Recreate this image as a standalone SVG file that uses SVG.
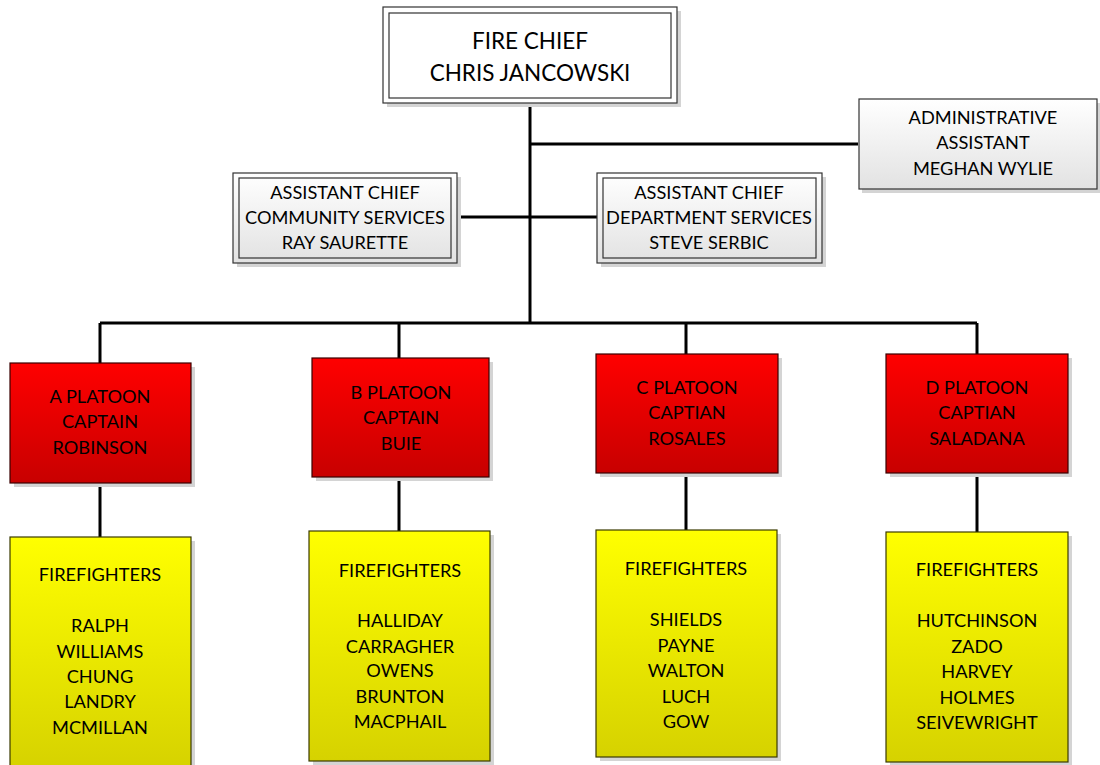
<svg xmlns="http://www.w3.org/2000/svg" width="1100" height="765" viewBox="0 0 1100 765">
<defs>
<linearGradient id="gRed" x1="0" y1="0" x2="0" y2="1"><stop offset="0" stop-color="#ff0000"/><stop offset="1" stop-color="#c80000"/></linearGradient>
<linearGradient id="gYel" x1="0" y1="0" x2="0" y2="1"><stop offset="0" stop-color="#ffff00"/><stop offset="1" stop-color="#d6d200"/></linearGradient>
<linearGradient id="gGray" x1="0" y1="0" x2="0" y2="1"><stop offset="0" stop-color="#ffffff"/><stop offset="1" stop-color="#e2e2e2"/></linearGradient>
</defs>
<style>
text{font-family:"Lato","Liberation Sans",sans-serif;fill:#000;text-anchor:middle;}
.t17{font-size:18.2px;}
.t22{font-size:22.5px;}
.sh{fill:#d4d4d4;}
.red{fill:url(#gRed);stroke:#3a0000;stroke-width:1.2;}
.yel{fill:url(#gYel);stroke:#3a3a00;stroke-width:1.2;}
.gray{fill:url(#gGray);stroke:#333;stroke-width:1.2;}
.inner{fill:none;stroke:#333;stroke-width:1.2;}
.wht{fill:#fff;stroke:#333;stroke-width:1.2;}
.conn{fill:none;stroke:#000;stroke-width:3;}
</style>
<g id="connectors">
<path class="conn" d="M530,103 V323"/>
<path class="conn" d="M530,144 H858"/>
<path class="conn" d="M457,217 H597"/>
<path class="conn" d="M100,323 H977"/>
<path class="conn" d="M100,323 V363 M399,323 V358 M686,323 V354 M977,323 V354"/>
<path class="conn" d="M100,483 V537 M399,477 V531 M686,473 V530 M977,473 V532"/>
</g>
<g id="fire-chief">
<rect class="sh" x="387" y="11" width="294" height="96"/>
<rect class="wht" x="383" y="7" width="294" height="96"/>
<rect class="inner" x="389" y="13" width="282" height="85"/>
<text class="t22" x="530" y="49">FIRE CHIEF</text>
<text class="t22" x="530" y="81">CHRIS JANCOWSKI</text>
</g>
<g id="admin-assistant">
<rect class="sh" x="862" y="103" width="240" height="90"/>
<rect class="gray" x="859" y="99" width="238" height="90"/>
<text class="t17" x="983" y="124">ADMINISTRATIVE</text>
<text class="t17" x="983" y="149">ASSISTANT</text>
<text class="t17" x="983" y="175">MEGHAN WYLIE</text>
</g>
<g id="asst-chief-community">
<rect class="sh" x="237" y="177" width="224" height="90"/>
<rect class="gray" x="233" y="173" width="224" height="90"/>
<rect class="inner" x="239" y="178" width="212" height="80"/>
<text class="t17" x="345" y="199">ASSISTANT CHIEF</text>
<text class="t17" x="345" y="224">COMMUNITY SERVICES</text>
<text class="t17" x="345" y="249">RAY SAURETTE</text>
</g>
<g id="asst-chief-department">
<rect class="sh" x="601" y="177" width="225" height="90"/>
<rect class="gray" x="597" y="173" width="225" height="90"/>
<rect class="inner" x="603" y="178" width="213" height="80"/>
<text class="t17" x="709" y="199">ASSISTANT CHIEF</text>
<text class="t17" x="709" y="224">DEPARTMENT SERVICES</text>
<text class="t17" x="709" y="249">STEVE SERBIC</text>
</g>
<g id="a-platoon">
<rect class="sh" x="14" y="367" width="181" height="120"/>
<rect class="red" x="10" y="363" width="181" height="120"/>
<text class="t17" x="100" y="403">A PLATOON</text>
<text class="t17" x="100" y="428">CAPTAIN</text>
<text class="t17" x="100" y="454">ROBINSON</text>
</g>
<g id="b-platoon">
<rect class="sh" x="316" y="362" width="177" height="119"/>
<rect class="red" x="312" y="358" width="177" height="119"/>
<text class="t17" x="401" y="399">B PLATOON</text>
<text class="t17" x="401" y="424">CAPTAIN</text>
<text class="t17" x="401" y="450">BUIE</text>
</g>
<g id="c-platoon">
<rect class="sh" x="600" y="358" width="182" height="119"/>
<rect class="red" x="596" y="354" width="182" height="119"/>
<text class="t17" x="687" y="394">C PLATOON</text>
<text class="t17" x="687" y="419">CAPTIAN</text>
<text class="t17" x="687" y="445">ROSALES</text>
</g>
<g id="d-platoon">
<rect class="sh" x="890" y="358" width="182" height="119"/>
<rect class="red" x="886" y="354" width="182" height="119"/>
<text class="t17" x="977" y="394">D PLATOON</text>
<text class="t17" x="977" y="419">CAPTIAN</text>
<text class="t17" x="977" y="445">SALADANA</text>
</g>
<g id="a-firefighters">
<rect class="sh" x="14" y="541" width="181" height="230"/>
<rect class="yel" x="10" y="537" width="181" height="232"/>
<text class="t17" x="100" y="581">FIREFIGHTERS</text>
<text class="t17" x="100" y="632">RALPH</text>
<text class="t17" x="100" y="658">WILLIAMS</text>
<text class="t17" x="100" y="683">CHUNG</text>
<text class="t17" x="100" y="708">LANDRY</text>
<text class="t17" x="100" y="734">MCMILLAN</text>
</g>
<g id="b-firefighters">
<rect class="sh" x="313" y="535" width="181" height="230"/>
<rect class="yel" x="309" y="531" width="181" height="230"/>
<text class="t17" x="400" y="577">FIREFIGHTERS</text>
<text class="t17" x="400" y="627">HALLIDAY</text>
<text class="t17" x="400" y="653">CARRAGHER</text>
<text class="t17" x="400" y="677">OWENS</text>
<text class="t17" x="400" y="703">BRUNTON</text>
<text class="t17" x="400" y="728">MACPHAIL</text>
</g>
<g id="c-firefighters">
<rect class="sh" x="600" y="534" width="181" height="227"/>
<rect class="yel" x="596" y="530" width="181" height="227"/>
<text class="t17" x="686" y="575">FIREFIGHTERS</text>
<text class="t17" x="686" y="626">SHIELDS</text>
<text class="t17" x="686" y="652">PAYNE</text>
<text class="t17" x="686" y="677">WALTON</text>
<text class="t17" x="686" y="703">LUCH</text>
<text class="t17" x="686" y="728">GOW</text>
</g>
<g id="d-firefighters">
<rect class="sh" x="890" y="536" width="182" height="230"/>
<rect class="yel" x="886" y="532" width="182" height="230"/>
<text class="t17" x="977" y="576">FIREFIGHTERS</text>
<text class="t17" x="977" y="627">HUTCHINSON</text>
<text class="t17" x="977" y="653">ZADO</text>
<text class="t17" x="977" y="678">HARVEY</text>
<text class="t17" x="977" y="704">HOLMES</text>
<text class="t17" x="977" y="729">SEIVEWRIGHT</text>
</g>
</svg>
